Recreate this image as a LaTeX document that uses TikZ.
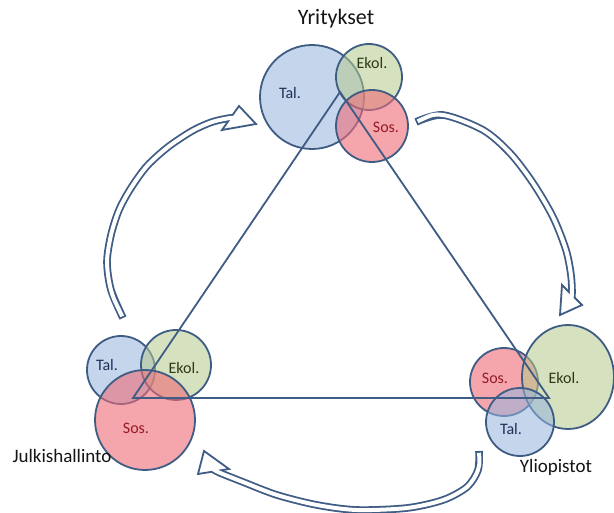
\documentclass[tikz,border=0pt]{standalone}
\usepackage{fontspec}
\setmainfont{Carlito}
\definecolor{edge}{RGB}{62,92,132}
\definecolor{talfill}{RGB}{150,180,222}
\definecolor{ekolfill}{RGB}{182,202,140}
\definecolor{sosfill}{RGB}{238,108,118}
\definecolor{taltxt}{RGB}{30,50,90}
\definecolor{ekoltxt}{RGB}{45,55,25}
\definecolor{sostxt}{RGB}{150,25,35}
\definecolor{titletxt}{RGB}{20,20,20}
\tikzset{
  talc/.style={draw=edge, line width=1.8pt, fill=talfill, fill opacity=0.55},
  ekolc/.style={draw=edge, line width=1.8pt, fill=ekolfill, fill opacity=0.55},
  sosc/.style={draw=edge, line width=1.8pt, fill=sosfill, fill opacity=0.6},
  lbl/.style={inner sep=0pt, font=\fontsize{16}{16}\selectfont},
  tallbl/.style={lbl, text=taltxt},
  ekollbl/.style={lbl, text=ekoltxt},
  soslbl/.style={lbl, text=sostxt},
  titlelbl/.style={inner sep=0pt, anchor=base, text=titletxt, font=\fontsize{19}{19}\selectfont},
  band/.style={draw=edge, line width=7.6pt},
  bandin/.style={draw=white, line width=4pt, shorten <=1.8pt},
  headshape/.style={fill=white, draw=edge, line width=1.8pt, line join=miter},
  triline/.style={draw=edge, line width=1.8pt, line join=miter}
}
\begin{document}
\begin{tikzpicture}[x=1pt,y=-1pt]
\useasboundingbox (0,0) rectangle (614,513);
\fill[white] (0,0) rectangle (614,513);

% curved arrows
\def\arrowA{(123,318) (111,290) (107,262) (111,235) (119,210) (131,188) (147,166) (168,147) (192,131) (212,122) (230,118) (235,118.5)}
\def\arrowB{(416,122) (443,115) (483,130) (510,153) (533,183) (553,217) (566,250) (571,275) (572,293) (571,300)}
\def\arrowC{(479,451) (478,470) (467,487) (443,500) (407,508) (357,510) (317,505) (277,495) (243,482) (218,472) (212,468)}

\draw[band] plot[smooth] coordinates {\arrowA};
\draw[headshape] (239,106) coordinate (h1a) -- (256,124) coordinate (h1t) -- (222,130) coordinate (h1b) -- cycle;
\draw[bandin] plot[smooth] coordinates {\arrowA};

\draw[band] plot[smooth] coordinates {\arrowB};
\draw[headshape] (562,285) coordinate (h2a) -- (560,315) coordinate (h2t) -- (582,305) coordinate (h2b) -- cycle;
\draw[bandin] plot[smooth] coordinates {\arrowB};

\draw[band] plot[smooth] coordinates {\arrowC};
\draw[headshape] (198,474) coordinate (h3a) -- (204,451) coordinate (h3t) -- (229,469) coordinate (h3b) -- cycle;
\draw[bandin] plot[smooth] coordinates {\arrowC};

% top cluster (Yritykset)
\draw[talc] (312,97) circle[radius=52pt];
\draw[ekolc] (369,77) circle[radius=33pt];
\draw[sosc] (372,126) circle[radius=36pt];

% bottom-left cluster (Julkishallinto)
\draw[talc] (121,370) circle[radius=34pt];
\draw[ekolc] (176,365) circle[radius=35pt];
\draw[sosc] (145,420) circle[radius=50pt];

% bottom-right cluster (Yliopistot)
\draw[sosc] (504,382) circle[radius=34pt];
\draw[ekolc] (568,377) ellipse[x radius=46pt, y radius=52pt];
\draw[talc] (520,422) circle[radius=34pt];

% triangle
\coordinate (A) at (340,92);
\coordinate (B) at (133,398);
\coordinate (C) at (549,398);
\draw[triline] (A) -- (B) -- (C) -- cycle;

% circle labels
\node[tallbl] (t1) at (290,93) {Tal.};
\node[ekollbl] (e1) at (372,63) {Ekol.};
\node[soslbl] (s1) at (386,127) {Sos.};
\node[tallbl] (t2) at (107,365) {Tal.};
\node[ekollbl] (e2) at (184,368) {Ekol.};
\node[soslbl] (s2) at (136,428) {Sos.};
\node[soslbl] (s3) at (495,378) {Sos.};
\node[ekollbl] (e3) at (564,378) {Ekol.};
\node[tallbl] (t3) at (511,429) {Tal.};

% titles
\node[titlelbl, font=\fontsize{22}{22}\selectfont] (yr) at (336,25) {Yritykset};
\node[titlelbl] (ju) at (62,462) {Julkishallinto};
\node[titlelbl] (yl) at (556,472) {Yliopistot};
\end{tikzpicture}
\end{document}
